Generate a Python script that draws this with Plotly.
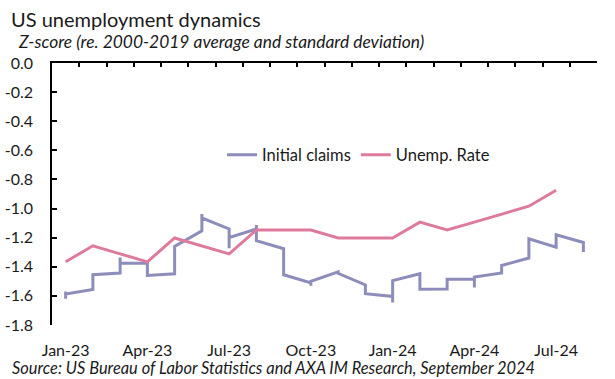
import plotly.graph_objects as go

# ---- data ----
months = ["Jan-23", "Feb-23", "Mar-23", "Apr-23", "May-23", "Jun-23", "Jul-23", "Aug-23",
          "Sep-23", "Oct-23", "Nov-23", "Dec-23", "Jan-24", "Feb-24", "Mar-24", "Apr-24",
          "May-24", "Jun-24", "Jul-24", "Aug-24"]

# Unemployment rate z-score, monthly (Jan-23 .. Jul-24)
unemp_months = months[:19]
unemp_z = [-1.366, -1.256, -1.311, -1.366, -1.202, -1.256, -1.311, -1.147, -1.147, -1.147,
           -1.202, -1.202, -1.202, -1.093, -1.147, -1.093, -1.038, -0.984, -0.874]

# Initial claims z-score, weekly observations grouped by month
claims_month = (["Jan-23"] * 3 + ["Feb-23"] * 3 + ["Mar-23"] * 3 + ["Apr-23"] * 3 +
                ["May-23"] * 4 + ["Jun-23"] * 3 + ["Jul-23"] * 3 + ["Aug-23"] * 4 +
                ["Sep-23"] * 3 + ["Oct-23"] * 3 + ["Nov-23"] * 2 + ["Dec-23"] * 3 +
                ["Jan-24"] * 4 + ["Feb-24"] * 3 + ["Mar-24"] * 3 + ["Apr-24"] * 3 +
                ["May-24"] * 3 + ["Jun-24"] * 3 + ["Jul-24"] * 2 + ["Aug-24"] * 3)
claims_z = [-1.570, -1.620, -1.588,
            -1.556, -1.500, -1.455,
            -1.443, -1.336, -1.375,
            -1.375, -1.420, -1.460,
            -1.448, -1.380, -1.300, -1.260,
            -1.153, -1.038, -1.064,
            -1.140, -1.272, -1.200,
            -1.140, -1.113, -1.170, -1.220,
            -1.276, -1.350, -1.455,
            -1.510, -1.530, -1.500,
            -1.435, -1.445,
            -1.525, -1.560, -1.585,
            -1.604, -1.645, -1.550, -1.495,
            -1.448, -1.500, -1.555,
            -1.553, -1.520, -1.485,
            -1.485, -1.542, -1.471,
            -1.443, -1.420, -1.391,
            -1.340, -1.280, -1.208,
            -1.265, -1.180,
            -1.233, -1.265, -1.299]

y_tick_vals = [0.0, -0.2, -0.4, -0.6, -0.8, -1.0, -1.2, -1.4, -1.6, -1.8]
y_tick_labels = ["0.0", "-0.2", "-0.4", "-0.6", "-0.8", "-1.0", "-1.2", "-1.4", "-1.6", "-1.8"]
x_label_months = ["Jan-23", "Apr-23", "Jul-23", "Oct-23", "Jan-24", "Apr-24", "Jul-24"]

title = "US unemployment dynamics"
subtitle = "Z-score (re. 2000-2019 average and standard deviation)"
source = "Source: US Bureau of Labor Statistics and AXA IM Research, September 2024"

# ---- figure ----
FONT = "Lato"
TXT = "#1a1a1a"
claims_color = "#8D8DBB"
unemp_color = "#DE7B9D"

claims_x = [months.index(m) for m in claims_month]
unemp_x = [months.index(m) for m in unemp_months]

W, H = 615, 379
pl, pr, pt, pb = 52, 18, 63, 54
pw, ph = W - pl - pr, H - pt - pb


def px(x_page):
    return (x_page - pl) / pw


def py(y_page):
    return (H - pb - y_page) / ph


fig = go.Figure()
fig.add_trace(go.Scatter(x=claims_x, y=claims_z, mode="lines", name="Initial claims",
                         line=dict(color=claims_color, width=3)))
fig.add_trace(go.Scatter(x=unemp_x, y=unemp_z, mode="lines", name="Unemp. Rate",
                         line=dict(color=unemp_color, width=3)))
# empty trace to activate top axis
fig.add_trace(go.Scatter(x=[], y=[], xaxis="x2", showlegend=False, hoverinfo="skip"))

n = len(months)
boundaries = [i - 0.5 for i in range(n + 1)]

fig.update_layout(
    width=W, height=H,
    margin=dict(l=pl, r=pr, t=pt, b=pb, autoexpand=False),
    paper_bgcolor="white", plot_bgcolor="white",
    font=dict(family=FONT, size=16, color=TXT),
    showlegend=True,
    legend=dict(orientation="h", x=px(222), y=py(155), xanchor="left", yanchor="middle",
                bgcolor="rgba(0,0,0,0)", font=dict(size=16.5, family=FONT, color=TXT),
                itemwidth=30),
    xaxis=dict(range=[-0.5, n - 0.5], tickmode="array", automargin=False,
               tickvals=[months.index(m) for m in x_label_months], ticktext=x_label_months,
               showline=False, ticks="", showgrid=False, zeroline=False,
               ticklabelstandoff=14, tickfont=dict(size=16)),
    xaxis2=dict(range=[-0.5, n - 0.5], overlaying="x", side="top", anchor="y", automargin=False,
                tickmode="array", tickvals=boundaries, showticklabels=False,
                ticks="inside", ticklen=4, tickwidth=1.5, tickcolor="#000",
                showline=True, linecolor="#000", linewidth=1.5,
                showgrid=False, zeroline=False),
    yaxis=dict(range=[-1.8, 0], tickmode="array", tickvals=y_tick_vals, ticktext=y_tick_labels,
               automargin=False,
               showline=True, linecolor="#000", linewidth=1.5,
               ticks="inside", ticklen=5, tickwidth=1.5, tickcolor="#000",
               showgrid=False, zeroline=False, ticklabelstandoff=14,
               tickfont=dict(size=16)),
)

fig.add_annotation(text=title, x=px(9), y=py(19), xref="paper", yref="paper",
                   xanchor="left", yanchor="middle", showarrow=False,
                   font=dict(size=20, family=FONT, color=TXT))
fig.add_annotation(text="<i>" + subtitle + "</i>", x=px(16), y=py(42), xref="paper", yref="paper",
                   xanchor="left", yanchor="middle", showarrow=False,
                   font=dict(size=17.4, family=FONT, color=TXT))
fig.add_annotation(text="<i>" + source + "</i>", x=px(10), y=py(368), xref="paper", yref="paper",
                   xanchor="left", yanchor="middle", showarrow=False,
                   font=dict(size=16.4, family=FONT, color=TXT))

# remove the browser's default 8px page margin so the figure sits at the window origin
fig.write_html("out.html", config={"displayModeBar": False},
               post_script="document.body.style.margin='0';")
